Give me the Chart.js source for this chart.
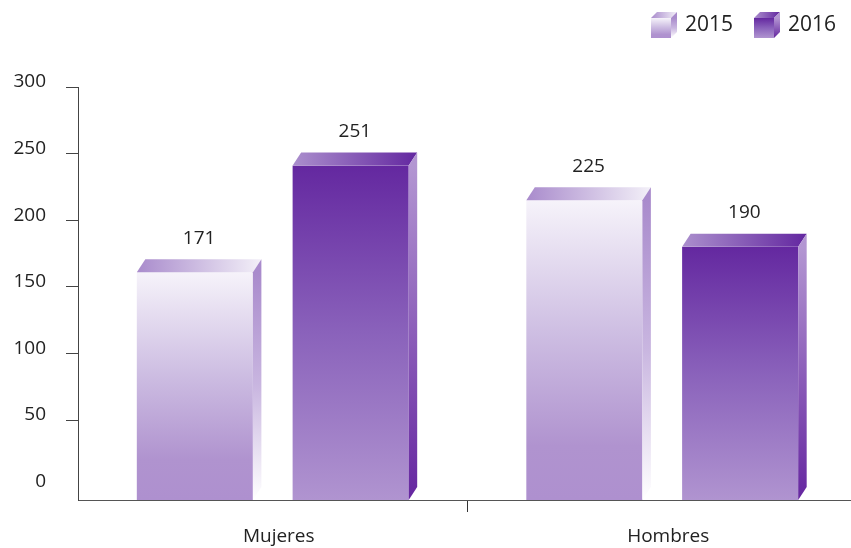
<!DOCTYPE html>
<html>
<head>
<meta charset="utf-8">
<script src="https://cdn.jsdelivr.net/npm/chart.js@4.4.1/dist/chart.umd.min.js"></script>
<style>
  html, body { margin: 0; padding: 0; background: #fff; overflow: hidden; }
  #wrap { width: 851px; height: 548px; overflow: hidden; }
</style>
</head>
<body>
<div id="wrap"><canvas id="myChart" width="857" height="548"></canvas></div>
<script>
const categories = ['Mujeres', 'Hombres'];
const seriesNames = ['2015', '2016'];
const values2015 = [171, 225];
const values2016 = [251, 190];
const yTickLabels = [0, 50, 100, 150, 200, 250, 300];

// the axis sits on the back wall of the 3D bars, a little above the floor
const DEPTH = 10;
const DX = 8.5, DY = 13;
const FONT = '"Open Sans", "Noto Sans", sans-serif';

// gradient stops as [offset, colour]
const styles = [
    {
        front: [[0, '#f6f3fa'], [0.45, '#cdbde2'], [0.82, '#b093cf'], [1, '#ae90cf']],
        top: [[0, '#a98bcc'], [1, '#f3f0f8']],
        side: [[0, '#a98bcc'], [0.5, '#c9b6e0'], [1, '#ffffff']]
    },
    {
        front: [[0, '#6428a0'], [0.5, '#8a62bb'], [1, '#b094d0']],
        top: [[0, '#ab8fcd'], [1, '#6327a0']],
        side: [[0, '#b396d2'], [1, '#6526a0']]
    }
];

function vGrad(ctx, y0, y1, stops) {
    const g = ctx.createLinearGradient(0, y0, 0, y1);
    stops.forEach(s => g.addColorStop(s[0], s[1]));
    return g;
}
function hGrad(ctx, x0, x1, stops) {
    const g = ctx.createLinearGradient(x0, 0, x1, 0);
    stops.forEach(s => g.addColorStop(s[0], s[1]));
    return g;
}

function drawBox(ctx, left, right, top, bottom, dx, dy, st) {
    // front
    ctx.fillStyle = vGrad(ctx, top, bottom, st.front);
    ctx.fillRect(left, top, right - left, bottom - top);
    // top face
    ctx.beginPath();
    ctx.moveTo(left, top);
    ctx.lineTo(right, top);
    ctx.lineTo(right + dx, top - dy);
    ctx.lineTo(left + dx, top - dy);
    ctx.closePath();
    ctx.fillStyle = hGrad(ctx, left, right + dx, st.top);
    ctx.fill();
    // side face
    ctx.beginPath();
    ctx.moveTo(right, top);
    ctx.lineTo(right + dx, top - dy);
    ctx.lineTo(right + dx, bottom - dy);
    ctx.lineTo(right, bottom);
    ctx.closePath();
    ctx.fillStyle = vGrad(ctx, top, bottom, st.side);
    ctx.fill();
}

const bars3d = {
    id: 'bars3d',
    afterDatasetsDraw(chart) {
        const ctx = chart.ctx;
        ctx.save();
        chart.data.datasets.forEach((ds, di) => {
            const meta = chart.getDatasetMeta(di);
            meta.data.forEach((bar, i) => {
                const left = bar.x - bar.width / 2;
                const right = bar.x + bar.width / 2;
                drawBox(ctx, left, right, bar.y, bar.base, DX, DY, styles[di]);
                ctx.fillStyle = '#222';
                ctx.font = '19px ' + FONT;
                ctx.textAlign = 'center';
                ctx.textBaseline = 'middle';
                ctx.fillText(ds.data[i], bar.x + DX / 2, bar.y - DY - 21);
            });
        });
        // legend
        const legendX = [651, 754];
        seriesNames.forEach((name, i) => {
            const x = legendX[i];
            drawBox(ctx, x, x + 20, 18, 38, 6, 6, styles[i]);
            ctx.fillStyle = '#222';
            ctx.font = '21px ' + FONT;
            ctx.textAlign = 'left';
            ctx.textBaseline = 'middle';
            ctx.fillText(name, x + 34, 25);
        });
        ctx.restore();
    }
};

new Chart(document.getElementById('myChart'), {
    type: 'bar',
    data: {
        labels: categories,
        datasets: [
            { label: seriesNames[0], data: values2015, backgroundColor: 'transparent' },
            { label: seriesNames[1], data: values2016, backgroundColor: 'transparent' }
        ]
    },
    options: {
        responsive: false,
        animation: false,
        devicePixelRatio: 1,
        layout: { padding: { top: 87, left: 0, right: 0, bottom: 0 } },
        categoryPercentage: 0.8,
        barPercentage: 0.745,
        plugins: {
            legend: { display: false },
            tooltip: { enabled: false }
        },
        scales: {
            x: {
                offset: true,
                grid: {
                    offset: true,
                    drawOnChartArea: false,
                    tickLength: 12,
                    color: (c) => c.index === 1 ? '#333' : 'transparent'
                },
                border: { display: true, color: '#555', width: 1 },
                ticks: {
                    color: '#222',
                    font: { family: FONT, size: 19 },
                    padding: 13,
                    labelOffset: 6
                },
                afterFit: (s) => { s.height = 48; }
            },
            y: {
                min: 0,
                max: 300 + DEPTH,
                afterBuildTicks: (s) => {
                    s.ticks = yTickLabels.map(v => ({ value: v + DEPTH }));
                },
                grid: {
                    drawOnChartArea: false,
                    tickLength: 12,
                    color: (c) => (c.tick && c.tick.value === DEPTH) ? 'transparent' : '#444'
                },
                border: { display: true, color: '#444', width: 1 },
                ticks: {
                    color: '#222',
                    font: { family: FONT, size: 19 },
                    padding: 20,
                    labelOffset: -5,
                    callback: (v) => v - DEPTH
                },
                afterFit: (s) => { s.width = 78; }
            }
        }
    },
    plugins: [bars3d]
});
</script>
</body>
</html>
